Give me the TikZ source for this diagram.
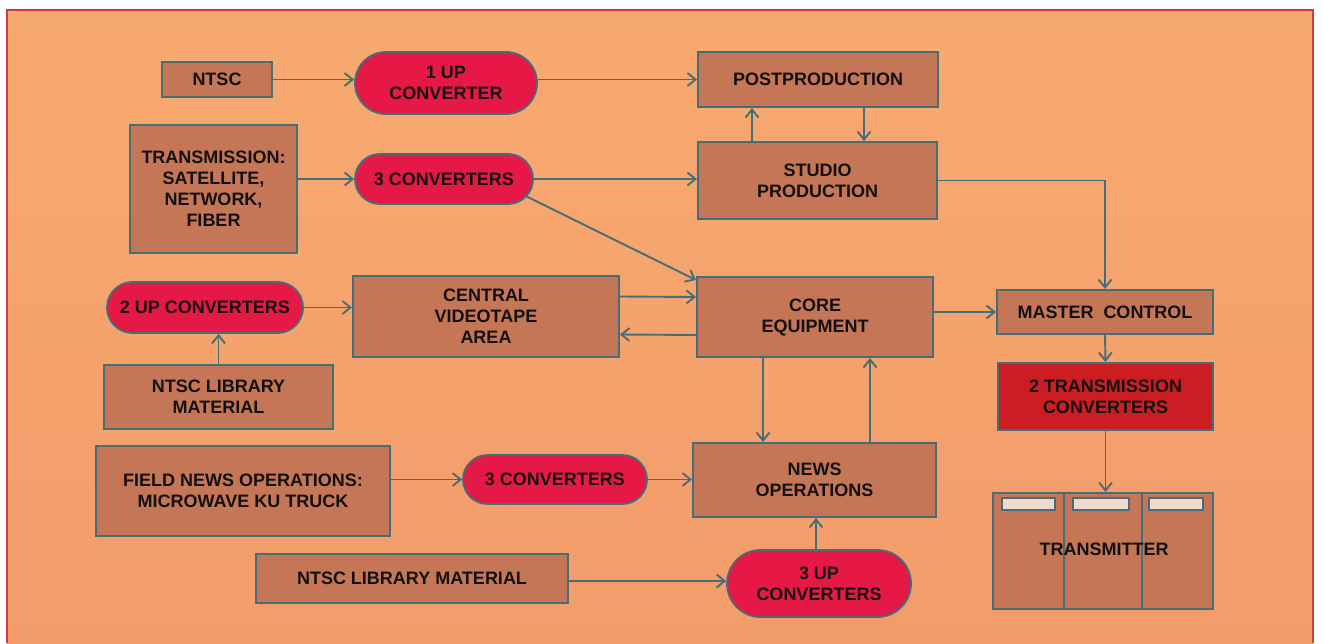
\documentclass[tikz,border=0pt]{standalone}
\usepackage{fontspec}
\setmainfont{Liberation Sans}
\usetikzlibrary{arrows.meta,shapes.misc}
\definecolor{bgtop}{RGB}{247,170,112}
\definecolor{bgbot}{RGB}{243,156,106}
\definecolor{framec}{RGB}{205,60,60}
\definecolor{edgec}{RGB}{70,110,120}
\definecolor{boxc}{RGB}{196,118,86}
\definecolor{pillc}{RGB}{230,24,70}
\definecolor{tconvc}{RGB}{204,30,34}
\definecolor{barc}{RGB}{240,218,205}
\definecolor{txtc}{RGB}{20,16,16}
\begin{document}
\begin{tikzpicture}[x=1pt,y=-1pt,
  lbl/.style={font=\bfseries\fontsize{18}{21}\selectfont, text=txtc, align=center, inner sep=0pt},
  box/.style={lbl, draw=edgec, line width=2pt, fill=boxc, rectangle},
  pill/.style={lbl, draw=edgec, line width=1.8pt, fill=pillc, rounded rectangle},
  arr/.style={draw=edgec, line width=1.9pt, -{Straight Barb[length=8pt,width=13pt]}},
  ln/.style={draw=edgec, line width=1.9pt}]
\useasboundingbox (0,0) rectangle (1323,643);
\fill[white] (0,0) rectangle (1323,643);
\shade[top color=bgtop,bottom color=bgbot] (7,10) rectangle (1313,643);
\draw[framec,line width=1.4pt] (7,643) -- (7,10) -- (1313,10) -- (1313,643);

% nodes
\node[box,minimum width=110pt,minimum height=35pt] (ntsc) at (217,79.5) {NTSC};
\node[pill,minimum width=182pt,minimum height=62pt] (up1) at (446,83) {1 UP\\CONVERTER};
\node[box,minimum width=240pt,minimum height=55pt] (post) at (818,79.5) {POSTPRODUCTION};
\node[box,minimum width=239pt,minimum height=77pt] (studio) at (817.5,180.5) {STUDIO\\PRODUCTION};
\node[box,minimum width=167pt,minimum height=128pt] (trans) at (213.5,189) {TRANSMISSION:\\SATELLITE,\\NETWORK,\\FIBER};
\node[pill,minimum width=178pt,minimum height=50pt] (conva) at (444,179) {3 CONVERTERS};
\node[box,minimum width=266pt,minimum height=81pt] (central) at (486,316.5) {CENTRAL\\VIDEOTAPE\\AREA};
\node[box,minimum width=236pt,minimum height=80pt] (core) at (815,317) {CORE\\EQUIPMENT};
\node[pill,minimum width=196pt,minimum height=51pt] (up2) at (205,307.5) {2 UP CONVERTERS};
\node[box,minimum width=229pt,minimum height=64pt] (liba) at (218.5,397) {NTSC LIBRARY\\MATERIAL};
\node[box,minimum width=294pt,minimum height=90pt] (field) at (243,491) {FIELD NEWS OPERATIONS:\\MICROWAVE KU TRUCK};
\node[pill,minimum width=184pt,minimum height=49pt] (convb) at (555,479.5) {3 CONVERTERS};
\node[box,minimum width=243pt,minimum height=74pt] (news) at (814.5,480) {NEWS\\OPERATIONS};
\node[box,minimum width=312pt,minimum height=49pt] (libb) at (412,578.5) {NTSC LIBRARY MATERIAL};
\node[pill,minimum width=184pt,minimum height=67pt] (up3) at (819,583.5) {3 UP\\CONVERTERS};
\node[box,minimum width=216pt,minimum height=44pt] (master) at (1105,312) {MASTER\ \ CONTROL};
\node[box,fill=tconvc,minimum width=215pt,minimum height=67pt] (tconv) at (1105.5,396.5) {2 TRANSMISSION\\CONVERTERS};
\node[box,minimum width=220pt,minimum height=116pt] (tx) at (1103,551) {};

% transmitter details
\draw[ln] (1064,493) -- (1064,609);
\draw[ln] (1142,493) -- (1142,609);
\draw[draw=edgec,line width=1.4pt,fill=barc] (1002,498) rectangle (1055,510);
\draw[draw=edgec,line width=1.4pt,fill=barc] (1073,498) rectangle (1129,510);
\draw[draw=edgec,line width=1.4pt,fill=barc] (1149,498) rectangle (1203,510);
\node[lbl] (txl) at (1104,549) {TRANSMITTER};

% connectors
\draw[arr] (ntsc.east) -- (ntsc.east -| up1.west);
\draw[arr] (post.west -| up1.east) -- (post.west);
\draw[arr] ([xshift=55pt]studio.north west) -- ([xshift=55pt]post.south west);
\draw[arr] ([xshift=167pt]post.south west) -- ([xshift=167pt]studio.north west);
\draw[arr] (conva.west -| trans.east) -- (conva.west);
\draw[arr] (conva.east) -- (conva.east -| studio.west);
\draw[arr] (conva.-12) -- ([yshift=-4pt]core.north west);
\draw[arr] ([yshift=20pt]central.east) -- ([yshift=20pt]core.west);
\draw[arr] ([yshift=-18pt]core.west) -- ([yshift=-18pt]central.east);
\draw[arr] (up2.east) -- (up2.east -| central.west);
\draw[arr] (liba.north) -- (liba.north |- up2.south);
\draw[arr] (master.west -| core.east) -- (master.west);
\draw[arr] (studio.east) -| (master.north);
\draw[arr] (master.south) -- (tconv.north);
\draw[arr] (tconv.south) -- (tconv.south |- tx.north);
\draw[arr] ([xshift=67pt]core.south west) -- ([xshift=71pt]news.north west);
\draw[arr] ([xshift=178pt]news.north west) -- ([xshift=174pt]core.south west);
\draw[arr] ([yshift=11.5pt]field.east) -- (convb.west);
\draw[arr] (convb.east) -- (convb.east -| news.west);
\draw[arr] ([yshift=-2.5pt]libb.east) -- ([yshift=2.5pt]up3.west);
\draw[arr] ([xshift=-3pt]up3.north) -- ([xshift=1.5pt]news.south);
\end{tikzpicture}
\end{document}
